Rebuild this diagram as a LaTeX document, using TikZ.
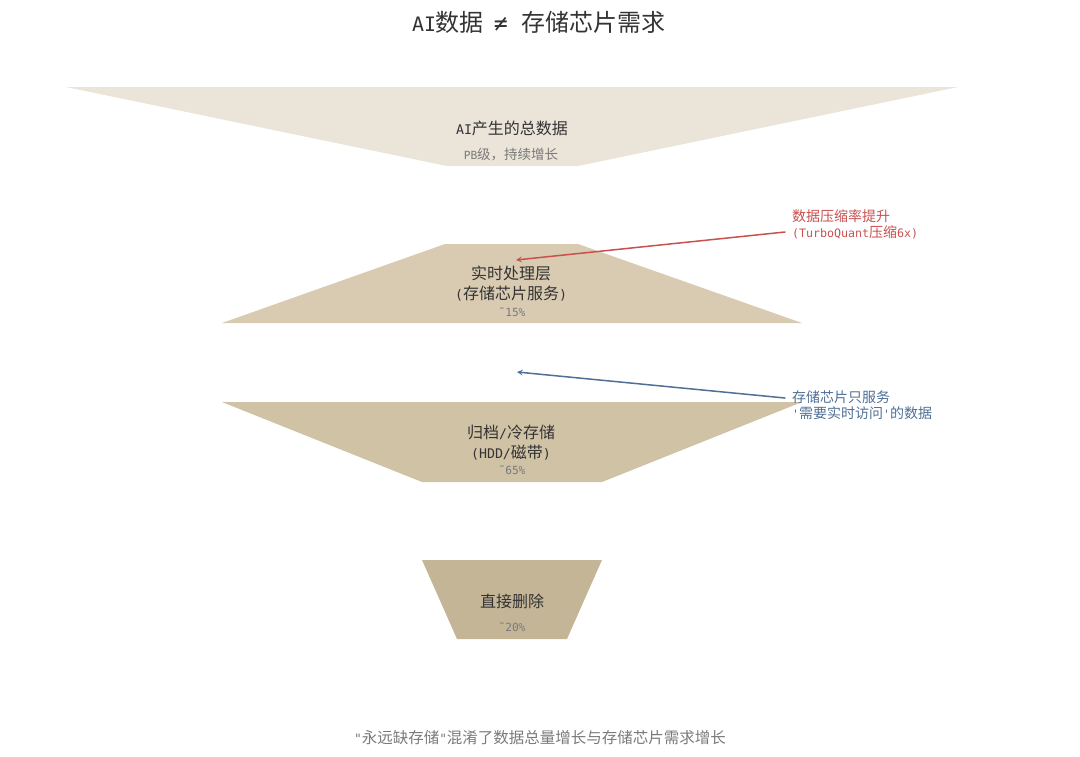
\documentclass[tikz,border=0pt]{standalone}
\usepackage{fontspec}
\setmainfont{Noto Sans CJK SC}
\newfontfamily\lat{DejaVu Sans Mono}[Scale=0.83]
\definecolor{layerA}{HTML}{EAE4D9}
\definecolor{layerB}{HTML}{D9CBB1}
\definecolor{layerC}{HTML}{D0C2A5}
\definecolor{layerD}{HTML}{C4B597}
\definecolor{txtdark}{HTML}{333333}
\definecolor{txtgray}{HTML}{7A7A7A}
\definecolor{notered}{HTML}{C9504F}
\definecolor{noteblue}{HTML}{4F6F96}
\newcommand{\dq}{{\lat\char"22}}
\newcommand{\sq}{{\lat\char"27}}
\newcommand{\pct}[1]{{\lat ˜#1\%}}
\begin{document}
\begin{tikzpicture}[x=1pt, y=-1pt, line cap=round, line join=round, >=stealth,
  mainlbl/.style={text=txtdark, font=\fontsize{16}{20}\selectfont, align=center},
  sublbl/.style={text=txtgray, font=\fontsize{13.5}{16}\selectfont},
  pctlbl/.style={text=txtgray, font=\fontsize{13.5}{16}\selectfont},
  notelbl/.style={anchor=west, align=left, font=\fontsize{14}{16}\selectfont, inner sep=0pt}]
	\useasboundingbox (0,0) rectangle (1080,756);
	% funnel layers
	\fill[layerA] (66,87) -- (958,87) -- (578,166) -- (447,166) -- cycle;
	\fill[layerB] (445,244) -- (578,244) -- (802,323) -- (222,323) -- cycle;
	\fill[layerC] (222,402) -- (802,402) -- (602,482) -- (422,482) -- cycle;
	\fill[layerD] (422,560) -- (602,560) -- (567,639) -- (457,639) -- cycle;
	% title
	\node[text=txtdark, font=\fontsize{24}{28}\selectfont] (title) at (539,22) {{\lat AI}数据\hspace{10pt}{\fontsize{28}{28}\selectfont\lat ≠}\hspace{14pt}存储芯片需求};
	% layer texts
	\node[mainlbl] (total) at (512,128) {{\lat AI}产生的总数据};
	\node[sublbl] (totalsub) at (511,155) {{\lat PB}级，持续增长};
	\node[mainlbl] (realtime) at (511,284) {实时处理层\\{\lat(}存储芯片服务{\lat)}};
	\node[pctlbl] (realtimepct) at (512,312) {\pct{15}};
	\node[mainlbl] (archive) at (511,443) {归档{\lat/}冷存储\\{\lat(HDD/}磁带{\lat)}};
	\node[pctlbl] (archivepct) at (512,470) {\pct{65}};
	\node[mainlbl] (delete) at (512,601) {直接删除};
	\node[pctlbl] (deletepct) at (512,627) {\pct{20}};
	% notes
	\node[notelbl, text=notered] (rednote) at (792,224) {数据压缩率提升\\{\lat(TurboQuant}压缩{\lat 6x)}};
	\node[notelbl, text=noteblue] (bluenote) at (792,405) {存储芯片只服务\\\sq 需要实时访问\sq 的数据};
	\coordinate (redtail) at (785,232);
	\coordinate (redtip) at (516,260);
	\coordinate (bluetail) at (785,398);
	\coordinate (bluetip) at (517,372);
	\draw[->, notered, line width=1.5pt] (redtail) -- (redtip);
	\draw[->, noteblue, line width=1.5pt] (bluetail) -- (bluetip);
	% footer
	\node[text=txtgray, font=\fontsize{15.5}{18}\selectfont] (footer) at (540,738) {\dq 永远缺存储\dq 混淆了数据总量增长与存储芯片需求增长};
\end{tikzpicture}
\end{document}
